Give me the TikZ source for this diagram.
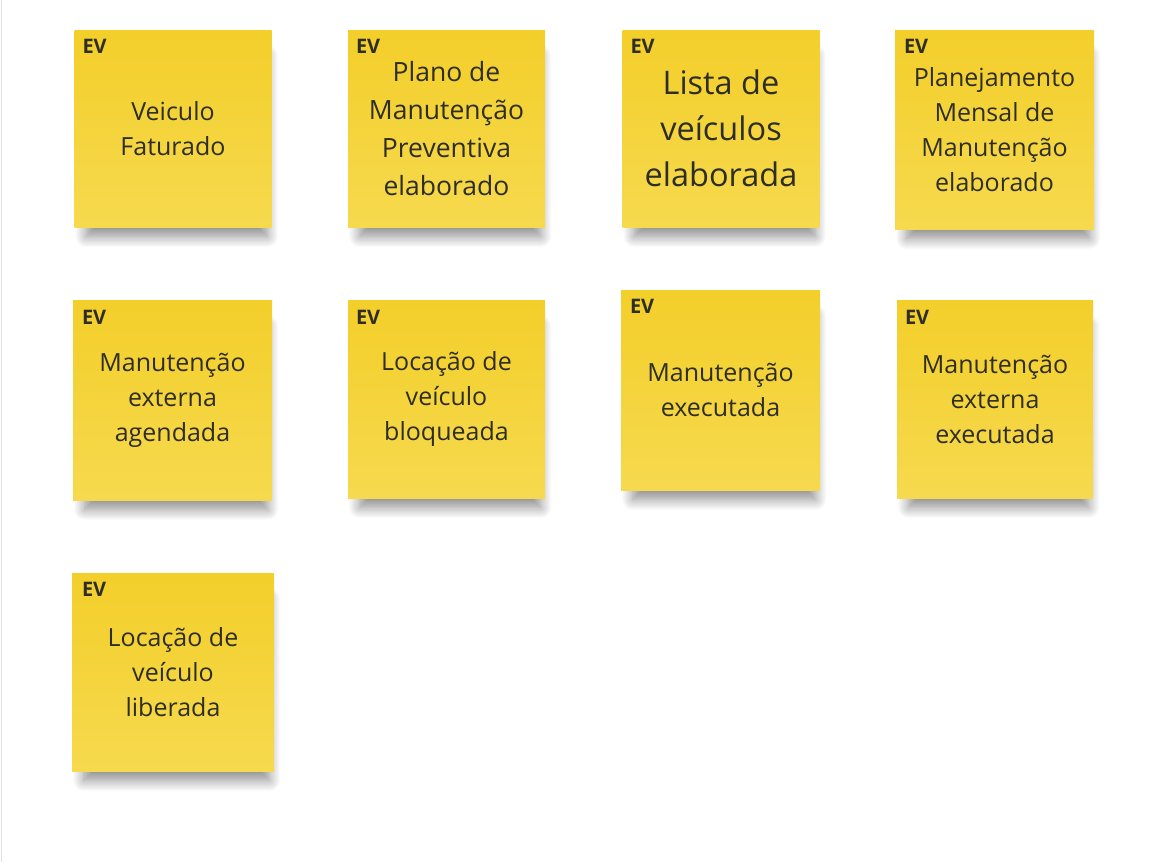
\documentclass[tikz,border=0pt]{standalone}
\usepackage{fontspec}
\setmainfont{Open Sans}
\usetikzlibrary{shadows.blur}
\definecolor{stickytop}{HTML}{F3CF2A}
\definecolor{stickybot}{HTML}{F6D94E}
\definecolor{stickyink}{HTML}{2E2E26}
\tikzset{
    sticky/.style={inner sep=0pt, minimum width=197pt, minimum height=197pt,
        top color=stickytop, bottom color=stickybot, align=center, text=stickyink,
        font=\fontsize{25}{35}\selectfont,
        blur shadow={shadow xshift=4pt, shadow yshift=-19pt, shadow scale=0.92,
            shadow opacity=45, shadow blur steps=16, shadow blur radius=12pt}},
    evtag/.style={anchor=north west, inner sep=0pt, text=stickyink,
        font=\fontsize{20}{20}\selectfont\bfseries}
}
\begin{document}
\begin{tikzpicture}[x=1pt,y=-1pt]
    \useasboundingbox (0,0) rectangle (1158,862);
    \draw [black!12] (1,0) -- (1,862);
    % first row
    \node [sticky] (faturado) at (173,128.5) {Veiculo\\Faturado};
    \node [sticky, font=\fontsize{26.5}{38}\selectfont] (plano) at (446.5,128.5) {Plano de\\Manutenção\\Preventiva\\elaborado};
    \node [sticky, font=\fontsize{32.5}{46}\selectfont] (lista) at (721,128.5) {Lista de\\veículos\\elaborada};
    \node [sticky, minimum width=199pt, minimum height=199pt] (mensal) at (994.5,129.5) {Planejamento\\Mensal de\\Manutenção\\elaborado};
    % second row
    \node [sticky, minimum width=199pt, minimum height=200pt] (agendada) at (172.5,400) {Manutenção\\externa\\agendada};
    \node [sticky, minimum height=198pt] (bloqueada) at (446.5,399) {Locação de\\veículo\\bloqueada};
    \node [sticky, minimum width=199pt, minimum height=200pt] (executada) at (720.5,390) {Manutenção\\executada};
    \node [sticky, minimum width=196pt, minimum height=198pt] (extexec) at (995,399) {Manutenção\\externa\\executada};
    % third row
    \node [sticky, minimum width=202pt, minimum height=198pt] (liberada) at (173,672) {Locação de\\veículo\\liberada};
    % tags
    \node [evtag] (ev1) at ([shift={(8,9)}]faturado.north west) {EV};
    \node [evtag] (ev2) at ([shift={(8,9)}]plano.north west) {EV};
    \node [evtag] (ev3) at ([shift={(8,9)}]lista.north west) {EV};
    \node [evtag] (ev4) at ([shift={(9,9)}]mensal.north west) {EV};
    \node [evtag] (ev5) at ([shift={(9,10)}]agendada.north west) {EV};
    \node [evtag] (ev6) at ([shift={(8,10)}]bloqueada.north west) {EV};
    \node [evtag] (ev7) at ([shift={(9,9)}]executada.north west) {EV};
    \node [evtag] (ev8) at ([shift={(8,10)}]extexec.north west) {EV};
    \node [evtag] (ev9) at ([shift={(10,9)}]liberada.north west) {EV};
\end{tikzpicture}
\end{document}
